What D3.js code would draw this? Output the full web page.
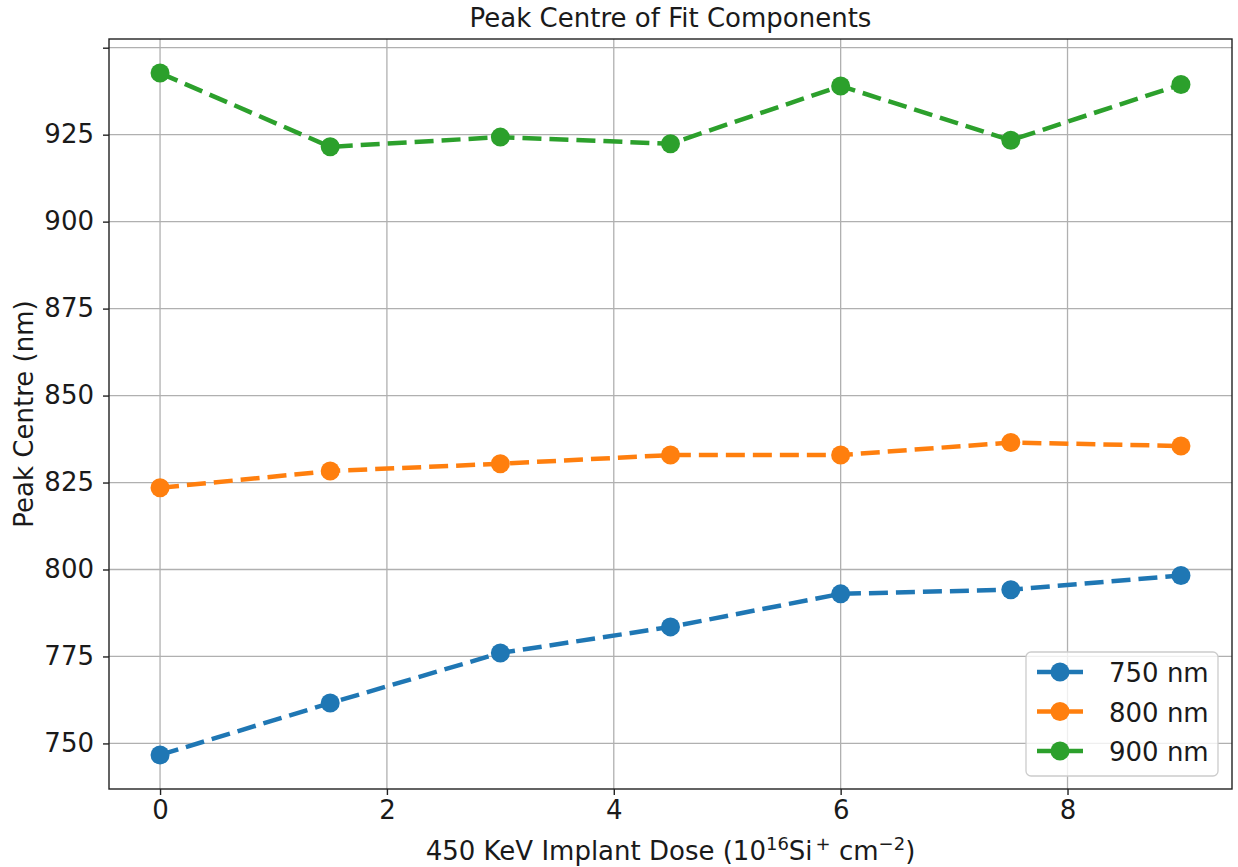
<!DOCTYPE html>
<html>
<head>
<meta charset="utf-8">
<script src="https://cdn.jsdelivr.net/npm/d3@7"></script>
<style>
    body { margin: 0; background: white; }
    svg { display: block; font-family: "DejaVu Sans", sans-serif; }
</style>
</head>
<body>
<script>
const doses = [0, 1.5, 3, 4.5, 6, 7.5, 9];
const peak750 = [746.7, 761.6, 776.0, 783.5, 793.0, 794.2, 798.3];
const peak800 = [823.5, 828.3, 830.4, 832.9, 832.9, 836.5, 835.5];
const peak900 = [942.7, 921.5, 924.3, 922.4, 939.0, 923.4, 939.4];
const seriesNames = ["750 nm", "800 nm", "900 nm"];
const seriesColors = ["#1f77b4", "#ff7f0e", "#2ca02c"];
const xTicks = [0, 2, 4, 6, 8];
const yTicks = [750, 775, 800, 825, 850, 875, 900, 925, 950];
const yTickLabels = ["750", "775", "800", "825", "850", "875", "900", "925", ""];

window.onload = function () {
    const width = 1238;
    const height = 867;
    const margin = ({top: 39, right: 6, bottom: 78, left: 109});
    const fontSize = 26;
    const supSize = 18;
    const supShift = 10;

    const series = [peak750, peak800, peak900].map((vals, i) => ({
        name: seriesNames[i],
        color: seriesColors[i],
        points: vals.map((v, j) => ({x: doses[j], y: v}))
    }));

    // matplotlib style 5% margins
    const pad = ([a, b]) => [a - (b - a) * 0.05, b + (b - a) * 0.05];
    const allY = series.flatMap(s => s.points.map(d => d.y));

    const x = d3.scaleLinear()
        .domain(pad(d3.extent(doses)))
        .range([margin.left, width - margin.right]);

    const y = d3.scaleLinear()
        .domain(pad(d3.extent(allY)))
        .range([height - margin.bottom, margin.top]);

    const svg = d3.select('body')
        .append("svg")
        .attr("width", width)
        .attr("height", height)
        .attr("viewBox", [0, 0, width, height]);

    // grid
    svg.append("g")
        .attr("stroke", "#b0b0b0")
        .attr("stroke-width", 1.3)
        .selectAll("line")
        .data(xTicks)
        .join("line")
        .attr("x1", d => x(d)).attr("x2", d => x(d))
        .attr("y1", margin.top).attr("y2", height - margin.bottom);

    svg.append("g")
        .attr("stroke", "#b0b0b0")
        .attr("stroke-width", 1.3)
        .selectAll("line")
        .data(yTicks)
        .join("line")
        .attr("x1", margin.left).attr("x2", width - margin.right)
        .attr("y1", d => y(d)).attr("y2", d => y(d));

    // axes
    const xAxis = g => g
        .attr("transform", `translate(0,${height - margin.bottom})`)
        .call(d3.axisBottom(x).tickValues(xTicks).tickFormat(d3.format("d")).tickSize(6).tickPadding(6).tickSizeOuter(0))
        .call(g => g.select(".domain").remove())
        .call(g => g.selectAll(".tick line").attr("stroke", "#222").attr("stroke-width", 1.4))
        .call(g => g.selectAll(".tick text").attr("fill", "#1a1a1a").style("font-size", fontSize + "px").style("font-family", "DejaVu Sans"));

    const yAxis = g => g
        .attr("transform", `translate(${margin.left},0)`)
        .call(d3.axisLeft(y).tickValues(yTicks).tickFormat((d, i) => yTickLabels[i]).tickSize(6).tickPadding(9).tickSizeOuter(0))
        .call(g => g.select(".domain").remove())
        .call(g => g.selectAll(".tick line").attr("stroke", "#222").attr("stroke-width", 1.4))
        .call(g => g.selectAll(".tick text").attr("fill", "#1a1a1a").style("font-size", fontSize + "px").style("font-family", "DejaVu Sans"));

    svg.append("g").call(xAxis);
    svg.append("g").call(yAxis);

    // series
    const line = d3.line().x(d => x(d.x)).y(d => y(d.y));

    series.forEach(s => {
        const g = svg.append("g");
        g.append("path")
            .attr("fill", "none")
            .attr("stroke", s.color)
            .attr("stroke-width", 4.5)
            .attr("stroke-dasharray", "19 8")
            .attr("d", line(s.points));
        g.selectAll("circle")
            .data(s.points)
            .join("circle")
            .attr("cx", d => x(d.x))
            .attr("cy", d => y(d.y))
            .attr("r", 9.5)
            .attr("fill", s.color);
    });

    // frame
    svg.append("rect")
        .attr("x", margin.left)
        .attr("y", margin.top)
        .attr("width", width - margin.right - margin.left)
        .attr("height", height - margin.bottom - margin.top)
        .attr("fill", "none")
        .attr("stroke", "#222")
        .attr("stroke-width", 1.4);

    // title and labels
    const cx = (margin.left + width - margin.right) / 2;
    svg.append("text")
        .attr("x", cx)
        .attr("y", 27)
        .attr("text-anchor", "middle")
        .attr("fill", "#1a1a1a")
        .style("font-size", fontSize + "px")
        .text("Peak Centre of Fit Components");

    svg.append("text")
        .attr("transform", `translate(33,${(margin.top + height - margin.bottom) / 2}) rotate(-90)`)
        .attr("text-anchor", "middle")
        .attr("fill", "#1a1a1a")
        .style("font-size", fontSize + "px")
        .text("Peak Centre (nm)");

    const xl = svg.append("text")
        .attr("x", cx)
        .attr("y", 860)
        .attr("text-anchor", "middle")
        .attr("fill", "#1a1a1a")
        .style("font-size", fontSize + "px");
    xl.append("tspan").text("450 KeV Implant Dose (10");
    xl.append("tspan").attr("dy", -supShift).style("font-size", supSize + "px").text("16");
    xl.append("tspan").attr("dy", supShift).text("Si");
    xl.append("tspan").attr("dy", -supShift).attr("dx", 3).style("font-size", supSize + "px").text("+");
    xl.append("tspan").attr("dy", supShift).text(" cm");
    xl.append("tspan").attr("dy", -supShift).style("font-size", supSize + "px").text("\u22122");
    xl.append("tspan").attr("dy", supShift).text(")");

    // legend
    const lg = svg.append("g")
        .attr("transform", `translate(${width - margin.right - 14 - 192},${height - margin.bottom - 13 - 124})`);
    lg.append("rect")
        .attr("width", 192)
        .attr("height", 124)
        .attr("rx", 5)
        .attr("fill", "white")
        .attr("fill-opacity", 0.8)
        .attr("stroke", "#cccccc")
        .attr("stroke-width", 1.3);

    const row = lg.selectAll("g.row")
        .data(series)
        .join("g")
        .attr("class", "row")
        .attr("transform", (d, i) => `translate(0,${20 + i * 39.5})`);
    row.append("line")
        .attr("x1", 11).attr("x2", 57)
        .attr("stroke", d => d.color)
        .attr("stroke-width", 4.5);
    row.append("circle")
        .attr("cx", 34)
        .attr("r", 9.5)
        .attr("fill", d => d.color);
    row.append("text")
        .attr("x", 83)
        .attr("y", 10)
        .attr("fill", "#1a1a1a")
        .style("font-size", fontSize + "px")
        .text(d => d.name);
}
</script>
</body>
</html>
